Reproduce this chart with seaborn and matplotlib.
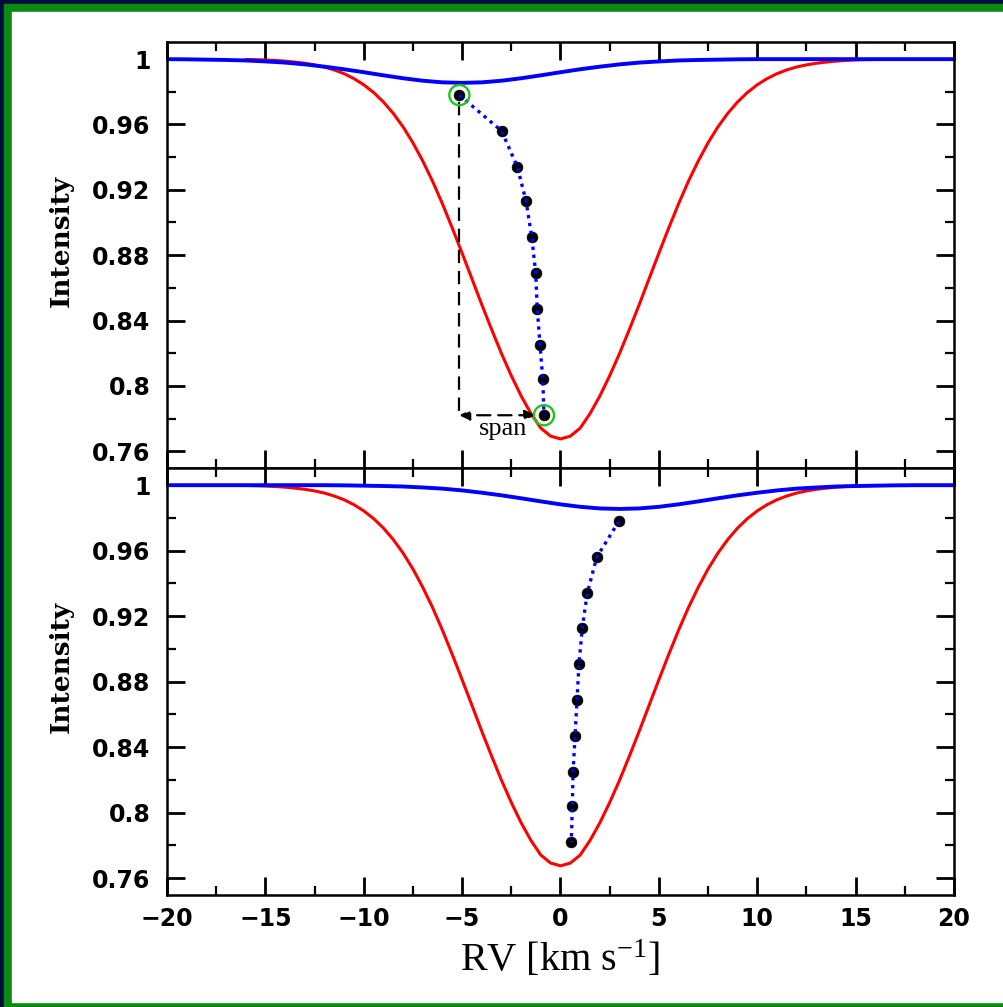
import numpy as np
import pandas as pd
import matplotlib
matplotlib.use('Agg')
import matplotlib.pyplot as plt
from matplotlib.patches import Rectangle
import seaborn as sns

# red: unspotted line profile, sampled every 0.5 km/s from -16 to 16
red_rv = [-16 + 0.5 * i for i in range(65)]
red_int = [0.9998, 0.9997, 0.9995, 0.9992, 0.9988, 0.9982, 0.9975, 0.9965,
           0.9952, 0.9934, 0.9911, 0.9881, 0.9843, 0.9796, 0.9738, 0.9668,
           0.9585, 0.9488, 0.9376, 0.9252, 0.9114, 0.8966, 0.8812, 0.8655,
           0.8497, 0.8345, 0.8198, 0.8062, 0.7938, 0.7830, 0.7741, 0.7692,
           0.7675,
           0.7692, 0.7741, 0.7830, 0.7938, 0.8062, 0.8198, 0.8345, 0.8497,
           0.8655, 0.8812, 0.8966, 0.9114, 0.9252, 0.9376, 0.9488, 0.9585,
           0.9668, 0.9738, 0.9796, 0.9843, 0.9881, 0.9911, 0.9934, 0.9952,
           0.9965, 0.9975, 0.9982, 0.9988, 0.9992, 0.9995, 0.9997, 0.9998]

# blue: spot profile, every 1 km/s from -20 to 20
blue_rv = list(range(-20, 21))
blue_top = [1.0, 0.9999, 0.9997, 0.9995, 0.9992, 0.9986, 0.9979, 0.9968,
            0.9954, 0.9938, 0.9920, 0.9901, 0.9883, 0.9868, 0.9858, 0.9855,
            0.9858, 0.9868, 0.9883, 0.9901, 0.9920, 0.9938, 0.9954, 0.9968,
            0.9979, 0.9986, 0.9992, 0.9995, 0.9997, 0.9999,
            1.0, 1.0, 1.0, 1.0, 1.0, 1.0, 1.0, 1.0, 1.0, 1.0, 1.0]
blue_bot = [1.0, 1.0, 1.0, 1.0, 1.0, 1.0, 1.0, 1.0, 1.0,
            0.9999, 0.9997, 0.9995, 0.9992, 0.9986, 0.9979, 0.9968, 0.9954,
            0.9938, 0.9920, 0.9901, 0.9883, 0.9868, 0.9858, 0.9855, 0.9858,
            0.9868, 0.9883, 0.9901, 0.9920, 0.9938, 0.9954, 0.9968, 0.9979,
            0.9986, 0.9992, 0.9995, 0.9997, 0.9999, 1.0, 1.0, 1.0]

# bisector points
bis_int = [0.978, 0.956, 0.934, 0.913, 0.891, 0.869, 0.847, 0.825, 0.804, 0.782]
bis_top = [-5.14, -2.99, -2.19, -1.75, -1.46, -1.26, -1.18, -1.04, -0.90, -0.84]
bis_bot = [2.97, 1.84, 1.36, 1.11, 0.94, 0.84, 0.74, 0.64, 0.60, 0.55]

xticks = [-20, -15, -10, -5, 0, 5, 10, 15, 20]
xtick_labels = ['\u221220', '\u221215', '\u221210', '\u22125', '0', '5', '10', '15', '20']
yticks = [0.76, 0.80, 0.84, 0.88, 0.92, 0.96, 1.00]
ytick_labels = ['0.76', '0.8', '0.84', '0.88', '0.92', '0.96', '1']

sns.set_style('ticks')
plt.rcParams['font.family'] = ['DejaVu Sans']
plt.rcParams['text.color'] = 'black'
plt.rcParams['axes.labelcolor'] = 'black'
plt.rcParams['xtick.color'] = 'black'
plt.rcParams['ytick.color'] = 'black'
plt.rcParams['mathtext.fontset'] = 'custom'
plt.rcParams['mathtext.rm'] = 'Liberation Serif'
plt.rcParams['mathtext.it'] = 'Liberation Serif:italic'
plt.rcParams['mathtext.bf'] = 'Liberation Serif:bold'

red_df = pd.DataFrame({'rv': red_rv, 'I': red_int})

fig = plt.figure(figsize=(10.04, 10.07), dpi=100, facecolor='#040c3e')
fig.add_artist(Rectangle((4 / 1004, -0.01), 1.1, 1 - 4 / 1007 + 0.01,
                         transform=fig.transFigure, color='#0b8a12', zorder=-10))
fig.add_artist(Rectangle((12 / 1004, 5 / 1007), 1.1, 1 - 17 / 1007,
                         transform=fig.transFigure, color='white', zorder=-9))

ax1 = fig.add_axes([167 / 1004, 1 - 468 / 1007, 787 / 1004, 426 / 1007])
ax2 = fig.add_axes([167 / 1004, 1 - 895 / 1007, 787 / 1004, 427 / 1007])

for ax, blue, bis in [(ax1, blue_top, bis_top), (ax2, blue_bot, bis_bot)]:
    sns.lineplot(data=red_df, x='rv', y='I', color='#ff0000', lw=2.2, ax=ax)
    sns.lineplot(x=blue_rv, y=blue, color='#0000ff', lw=2.8, ax=ax)
    sns.scatterplot(x=bis, y=bis_int, color='black', s=60, edgecolor='black',
                    linewidth=0.5, ax=ax, zorder=3)
    sns.lineplot(x=bis, y=bis_int, sort=False, estimator=None, color='#0000ff',
                 lw=2.4, ls=(0, (1, 1.4)), ax=ax, zorder=4)

    ax.set_xlim(-20, 20)
    ax.set_ylim(0.7497, 1.0105)
    ax.set_xticks(xticks)
    ax.set_xticks(np.arange(-17.5, 20, 5), minor=True)
    ax.set_yticks(yticks)
    ax.set_yticks(np.arange(0.78, 1.0, 0.04), minor=True)
    ax.set_yticklabels(ytick_labels)
    ax.tick_params(which='both', direction='in', top=True, right=True,
                   bottom=True, left=True, color='black')
    ax.tick_params(which='major', length=13, width=2.0)
    ax.tick_params(which='minor', length=6.5, width=1.6)
    ax.tick_params(axis='y', pad=12, labelsize=17, labelcolor='black')
    for lab in ax.get_yticklabels():
        lab.set_fontweight('bold')
    for sp in ax.spines.values():
        sp.set_linewidth(1.8)
        sp.set_color('black')
    ax.set_ylabel('Intensity', family='DejaVu Serif', fontweight='bold',
                  fontsize=19, color='black')
    ax.yaxis.set_label_coords(-0.118, 0.533)
    ax.set_facecolor('white')

ax1.set_xticklabels([])
ax1.set_xlabel('')
ax2.set_xticklabels(xtick_labels)
ax2.tick_params(axis='x', pad=9, labelsize=17, labelcolor='black')
for lab in ax2.get_xticklabels():
    lab.set_fontweight('bold')
ax2.set_xlabel(r'RV [km s$^{\mathrm{-1}}$]', family='Liberation Serif', fontsize=29,
               labelpad=6, color='black')

# span annotation on the top panel
ax1.plot([bis_top[0], bis_top[0]], [bis_int[0] - 0.004, bis_int[-1]], color='black',
         lw=1.6, ls=(0, (6, 3.5)), zorder=2)
ax1.annotate('', xy=(bis_top[0], bis_int[-1]), xytext=(bis_top[-1] - 0.45, bis_int[-1]),
             arrowprops=dict(arrowstyle='<|-|>', color='black', lw=1.6, ls=(0, (6, 3.5)),
                             mutation_scale=15, shrinkA=0, shrinkB=0), zorder=2)
sns.scatterplot(x=[bis_top[0], bis_top[-1]], y=[bis_int[0], bis_int[-1]], marker='o',
                s=210, facecolor='none', edgecolor='#1fc41f', linewidth=1.7, ax=ax1, zorder=5)
ax1.text((bis_top[0] + bis_top[-1]) / 2 + 0.05, bis_int[-1] - 0.0085, 'span',
         family='Liberation Serif', fontsize=19, ha='center', va='center', color='black')

fig.savefig('out.png', dpi=100, facecolor=fig.get_facecolor())
